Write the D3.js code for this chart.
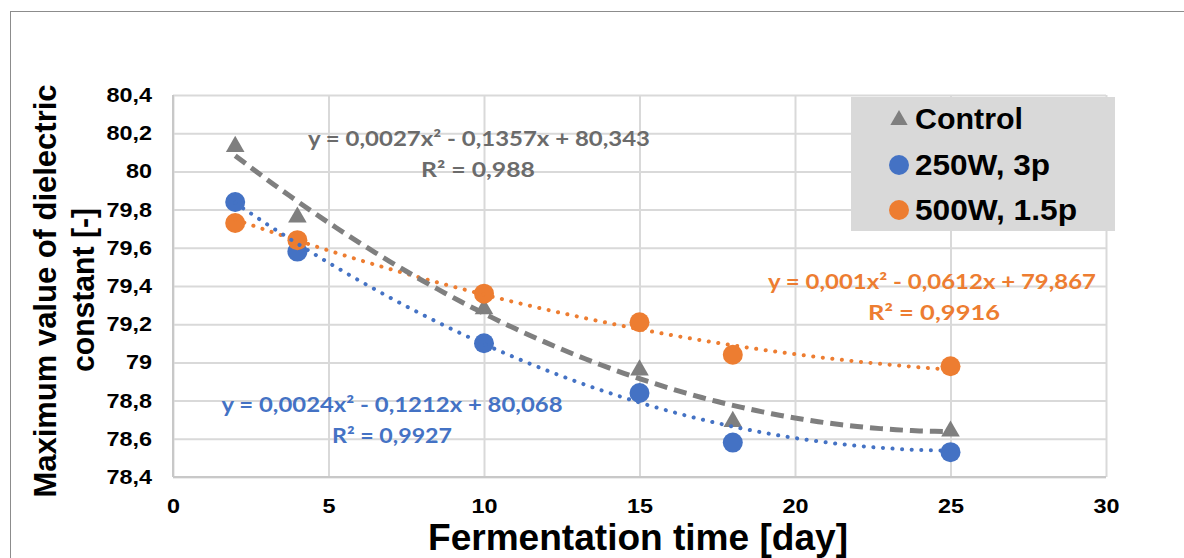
<!DOCTYPE html>
<html>
<head>
<meta charset="utf-8">
<script src="https://cdn.jsdelivr.net/npm/d3@7"></script>
<style>
  body { margin: 0; background: #fff; }
  svg { display: block; }
</style>
</head>
<body>
<div id="chart"></div>
<script>
// data
var days = [2, 4, 10, 15, 18, 25];
var control = [80.13, 79.76, 79.28, 78.96, 78.69, 78.64];
var w250 = [79.84, 79.58, 79.10, 78.84, 78.58, 78.53];
var w500 = [79.73, 79.64, 79.36, 79.21, 79.04, 78.98];

// trend line coefficients (a*x^2 + b*x + c) as printed on the chart
var controlFit = [0.0027, -0.1357, 80.343];
var w250Fit = [0.0024, -0.1212, 80.068];
var w500Fit = [0.001, -0.0612, 79.867];

var xTicks = [0, 5, 10, 15, 20, 25, 30];
var yTicks = [78.4, 78.6, 78.8, 79, 79.2, 79.4, 79.6, 79.8, 80, 80.2, 80.4];

var svgWidth = 1184;
var svgHeight = 558;

var margin = { top: 95, right: 78, bottom: 81, left: 173 };
var width = svgWidth - margin.left - margin.right;
var height = svgHeight - margin.top - margin.bottom;

var arial = "'Liberation Sans', Arial, sans-serif";

var svg = d3.select("#chart")
    .append("svg")
    .attr("width", svgWidth)
    .attr("height", svgHeight);

// outer frame
svg.append("rect")
    .attr("x", 10.5).attr("y", 11.5)
    .attr("width", 1200).attr("height", 600)
    .attr("fill", "none")
    .attr("stroke", "#8c8c8c")
    .attr("stroke-width", 1);

var chartGroup = svg.append("g")
    .attr("transform", `translate(${margin.left}, ${margin.top})`);

var xScale = d3.scaleLinear().domain([0, 30]).range([0, width]);
var yScale = d3.scaleLinear().domain([78.4, 80.4]).range([height, 0]);

var fmt = d3.formatLocale({ decimal: ",", thousands: ".", grouping: [3], currency: ["", ""] }).format("~f");

// gridlines
chartGroup.append("g")
    .call(d3.axisLeft(yScale).tickValues(yTicks).tickSize(-width).tickFormat(""))
    .call(g => g.select(".domain").remove())
    .selectAll("line").attr("stroke", "#d9d9d9").attr("stroke-width", 2);

chartGroup.append("g")
    .call(d3.axisBottom(xScale).tickValues(xTicks).tickSize(height).tickFormat(""))
    .call(g => g.select(".domain").remove())
    .selectAll("line").attr("stroke", "#d9d9d9").attr("stroke-width", 2);

// axis lines
chartGroup.append("line")
    .attr("x1", 0).attr("x2", width).attr("y1", height).attr("y2", height)
    .attr("stroke", "#c8c8c8").attr("stroke-width", 2);
chartGroup.append("line")
    .attr("x1", 0).attr("x2", 0).attr("y1", 0).attr("y2", height)
    .attr("stroke", "#c8c8c8").attr("stroke-width", 2);

// stretch a text horizontally (the reference glyphs are wider than Arial)
function widen(sel, k) {
    sel.each(function() {
        var len = this.getComputedTextLength();
        d3.select(this).attr("textLength", len * k).attr("lengthAdjust", "spacingAndGlyphs");
    });
}

// tick labels
var yAxis = chartGroup.append("g")
    .call(d3.axisLeft(yScale).tickValues(yTicks).tickSize(0).tickPadding(21).tickFormat(fmt));
yAxis.select(".domain").remove();
yAxis.selectAll("text")
    .attr("font-family", arial)
    .attr("font-weight", "bold").attr("font-size", 20).attr("fill", "#000")
    .call(widen, 1.17);

var xAxis = chartGroup.append("g")
    .attr("transform", `translate(0, ${height})`)
    .call(d3.axisBottom(xScale).tickValues(xTicks).tickSize(0).tickPadding(22).tickFormat(fmt));
xAxis.select(".domain").remove();
xAxis.selectAll("text")
    .attr("font-family", arial)
    .attr("font-weight", "bold").attr("font-size", 20).attr("fill", "#000")
    .call(widen, 1.17);

// markers
var triangle = d3.symbol().type(d3.symbolTriangle).size(150);

chartGroup.selectAll(".ctrl")
    .data(days)
    .enter()
    .append("path")
    .attr("d", triangle)
    .attr("transform", (d, i) => `translate(${xScale(d)}, ${yScale(control[i])})`)
    .attr("fill", "#7f7f7f");

chartGroup.selectAll(".c250")
    .data(days)
    .enter()
    .append("circle")
    .attr("cx", d => xScale(d))
    .attr("cy", (d, i) => yScale(w250[i]))
    .attr("r", 10)
    .attr("fill", "#4472c4");

chartGroup.selectAll(".c500")
    .data(days)
    .enter()
    .append("circle")
    .attr("cx", d => xScale(d))
    .attr("cy", (d, i) => yScale(w500[i]))
    .attr("r", 10)
    .attr("fill", "#ed7d31");

// trend lines
var xs = d3.range(days[0], days[days.length - 1] + 0.001, 0.25);
function trend(c) {
    return xs.map(x => [x, c[0] * x * x + c[1] * x + c[2]]);
}
var line = d3.line().x(d => xScale(d[0])).y(d => yScale(d[1]));

chartGroup.append("path")
    .attr("d", line(trend(w500Fit)))
    .attr("fill", "none").attr("stroke", "#ed7d31")
    .attr("stroke-width", 4).attr("stroke-linecap", "round")
    .attr("stroke-dasharray", "0.1 9.5");

chartGroup.append("path")
    .attr("d", line(trend(w250Fit)))
    .attr("fill", "none").attr("stroke", "#4472c4")
    .attr("stroke-width", 4).attr("stroke-linecap", "round")
    .attr("stroke-dasharray", "0.1 9.5");

chartGroup.append("path")
    .attr("d", line(trend(controlFit)))
    .attr("fill", "none").attr("stroke", "#7f7f7f")
    .attr("stroke-width", 5)
    .attr("stroke-dasharray", "13 7");

// equation labels
function label(txt, x, y, len, color) {
    svg.append("text")
        .attr("x", x).attr("y", y)
        .attr("text-anchor", "middle")
        .attr("textLength", len).attr("lengthAdjust", "spacingAndGlyphs")
        .attr("font-family", "Lato, 'Open Sans', sans-serif")
        .attr("font-weight", "bold").attr("font-size", 20)
        .attr("fill", color)
        .text(txt);
}
label("y = 0,0027x² - 0,1357x + 80,343", 479, 146, 342, "#6b6b6b");
label("R² = 0,988", 478, 177, 114, "#6b6b6b");
label("y = 0,0024x² - 0,1212x + 80,068", 392, 412, 341, "#4472c4");
label("R² = 0,9927", 392, 443, 120, "#4472c4");
label("y = 0,001x² - 0,0612x + 79,867", 932, 289, 328, "#ed7d31");
label("R² = 0,9916", 934, 320, 132, "#ed7d31");

// legend
var legend = svg.append("g");
legend.append("rect")
    .attr("x", 851).attr("y", 97)
    .attr("width", 264).attr("height", 134)
    .attr("fill", "#d9d9d9");

var legendNames = ["Control", "250W, 3p", "500W, 1.5p"];
var legendColors = ["#7f7f7f", "#4472c4", "#ed7d31"];
var legendY = [119, 165, 210];
var legendLen = [108, 135, 162];

legendNames.forEach((name, i) => {
    if (i === 0) {
        legend.append("path")
            .attr("d", d3.symbol().type(d3.symbolTriangle).size(130))
            .attr("transform", `translate(899, ${legendY[i] + 1})`)
            .attr("fill", legendColors[i]);
    } else {
        legend.append("circle")
            .attr("cx", 899).attr("cy", legendY[i])
            .attr("r", 10).attr("fill", legendColors[i]);
    }
    legend.append("text")
        .attr("x", 915).attr("y", legendY[i] + 10)
        .attr("textLength", legendLen[i]).attr("lengthAdjust", "spacingAndGlyphs")
        .attr("font-family", arial)
        .attr("font-weight", "bold").attr("font-size", 29)
        .attr("fill", "#000")
        .text(name);
});

// axis titles
svg.append("text")
    .attr("x", 638).attr("y", 550)
    .attr("text-anchor", "middle")
    .attr("textLength", 420).attr("lengthAdjust", "spacingAndGlyphs")
    .attr("font-family", arial)
    .attr("font-weight", "bold").attr("font-size", 36)
    .attr("fill", "#000")
    .text("Fermentation time [day]");

svg.append("text")
    .attr("transform", "translate(56, 291) rotate(-90)")
    .attr("text-anchor", "middle")
    .attr("textLength", 413).attr("lengthAdjust", "spacingAndGlyphs")
    .attr("font-family", arial)
    .attr("font-weight", "bold").attr("font-size", 32)
    .attr("fill", "#000")
    .text("Maximum value of dielectric");

svg.append("text")
    .attr("transform", "translate(94, 290) rotate(-90)")
    .attr("text-anchor", "middle")
    .attr("textLength", 164).attr("lengthAdjust", "spacingAndGlyphs")
    .attr("font-family", arial)
    .attr("font-weight", "bold").attr("font-size", 32)
    .attr("fill", "#000")
    .text("constant [-]");
</script>
</body>
</html>
